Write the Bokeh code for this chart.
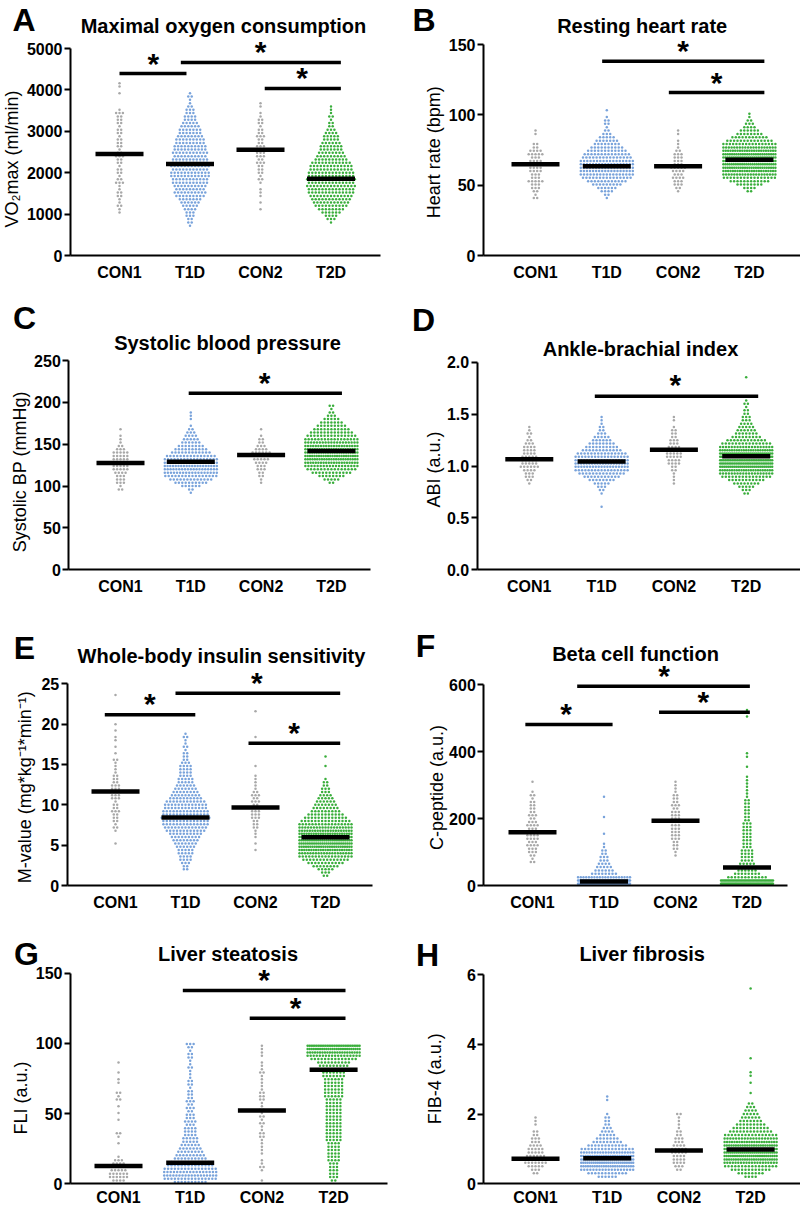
import numpy as np
from bokeh.plotting import figure
from bokeh.models import Range1d, FixedTicker, PrintfTickFormatter, Label
from bokeh.layouts import column, row
from bokeh.embed import file_html
from bokeh.resources import INLINE
from bokeh.core.properties import value

GROUPS = ["CON1", "T1D", "CON2", "T2D"]
COLORS = ["#a8a8a8", "#79a3db", "#a8a8a8", "#3aae3c"]

# ---------------- data (row counts per value row) ----------------
# A  Maximal oxygen consumption (ml/min)
VO2_STEP = 80
VO2_LO = [1040, 720, 1120, 800]
VO2_CON1 = [1,1,2,1,1,2,2,1,1,3, 2,1,2,2,1,2,2,3,2,1, 2,2,2,1,2,2,1,2,2,2, 3,1,0,0,0,0,1,0,1,1, 0]
VO2_T1D = [1,2,2,3,3,4,5,6,7,9, 10,9,10,11,11,12,12,11,12,11, 11,10,11,10,10,9,9,8,7,7, 6,5,4,4,3,3,2,1,1,2, 1]
VO2_CON2 = [1,0,1,0,1,1,1,0,1,2, 1,2,2,2,3,2,3,3,2,3, 2,2,3,2,2,1,2,2,1,1, 0,1,1]
VO2_T2D = [1,3,4,6,8,10,11,12,13,14, 14,15,14,15,14,14,13,13,12,10, 9,8,7,7,6,5,5,4,3,2, 2,1,2,1,1,1]
VO2_MEAN = [2450, 2210, 2555, 1855]
VO2_TICKS = [0, 1000, 2000, 3000, 4000, 5000]

# B  Resting heart rate (bpm)
HR_STEP = 2.4
HR_LO = [40.8, 40.8, 45.6, 45.6]
HR_CON1 = [2,1,2,3,3,5,3,3,4,4, 5,4,3,5,4,2,2,0,0,1, 1]
HR_T1D = [1,2,4,6,9,12,15,17,18,18, 18,17,15,14,12,10,8,7,5,3, 2,1,2,2,1,0,1]
HR_CON2 = [1,2,3,3,4,3,4,5,3,3, 3,3,2,1,1,1,0,1,1]
HR_T2D = [2,4,8,12,16,20,23,25,26,26, 26,25,23,20,17,14,11,8,6,4, 3,2,1,1]
HR_MEAN = [64.8, 63.4, 63.4, 68.1]
HR_TICKS = [0, 50, 100, 150]

# C  Systolic blood pressure (mmHg)
SBP_STEP = 4
SBP_LO = [96, 92, 104, 104]
SBP_CON1 = [2,1,3,3,3,4,5,5,6,5, 5,5,3,2,1,1,1,0,1]
SBP_T1D = [1,2,6,10,13,16,18,19,20,19, 17,15,12,10,8,6,5,4,3,2, 1,0,1,1,1]
SBP_CON2 = [1,1,2,2,3,3,4,5,5,6, 4,3,2,2,1,0,1]
SBP_T2D = [2,5,8,12,15,18,21,23,24,24, 23,21,19,17,15,13,11,9,7,5, 3,2,1,2]
SBP_MEAN = [127.6, 129.2, 137.2, 141.9]
SBP_TICKS = [0, 50, 100, 150, 200, 250]

# D  Ankle-brachial index
ABI_STEP = 0.032
ABI_LO = [0.832, 0.608, 0.832, 0.736]
ABI_CON1 = [1,2,3,3,4,6,5,5,5,4, 4,4,3,2,1,2,1,1]
ABI_T1D = [1,0,0,0,1,2,3,5,8,11, 14,17,19,20,19,17,15,12,10,8, 6,5,3,2,2,1,1,1]
ABI_CON2 = [1,1,1,1,2,2,4,4,5,5, 5,4,3,3,2,2,2,1,0,1, 1]
ABI_T2D = [2,3,5,8,11,15,19,23,27,30, 31,30,27,23,19,15,12,9,7,6, 5,4,3,3,2,2,1,2,1,0, 0,0,0,0,0,1]
ABI_MEAN = [1.066, 1.043, 1.156, 1.095]
ABI_TICKS = [0.0, 0.5, 1.0, 1.5, 2.0]

# E  Whole-body insulin sensitivity (M-value)
MV_STEP = 0.4
MV_LO = [5.2, 2.0, 4.4, 1.2]
MV_CON1 = [1,0,0,0,1,2,1,2,2,2, 3,2,2,1,3,3,4,3,3,2, 2,2,1,1,1,1,2,0,1,0, 1,0,1,1,0,1,0,1,0,0, 0,0,0,0,0,0,1]
MV_T1D = [2,2,3,4,4,5,5,6,7,8, 9,10,12,13,14,14,15,14,14,13, 13,12,10,9,8,7,6,5,5,4, 4,4,4,3,2,2,2,1,2,1, 1,2,1]
MV_CON2 = [1,0,1,0,1,1,1,2,2,2, 3,3,3,3,2,3,2,3,2,1, 1,1,1,1,0,0,1,0,0,0, 0,0,0,0,0,1,0,0,0,0, 0,0,0,1]
MV_T2D = [2,3,5,8,11,14,17,20,23,25, 26,26,25,23,21,19,17,15,13,11, 9,8,7,6,5,4,3,3,2,2, 1,0,0,0,1,0,0,1]
MV_MEAN = [11.65, 8.43, 9.67, 5.99]
MV_TICKS = [0, 5, 10, 15, 20, 25]

# F  Beta cell function (C-peptide)
CP_STEP = 10
CP_LO = [70, 5, 90, 5]
CP_CON1 = [2,1,2,3,3,4,3,4,4,4, 3,4,3,2,3,2,2,2,2,1, 2,1,0,0,1]
CP_T1D = [55,45,20,8,6,5,4,3,3,2, 2,1,1,0,0,1,0,0,0,0, 1,0,0,0,0,0,1]
CP_CON2 = [1,1,2,2,2,3,3,3,3,3, 3,3,3,3,2,3,2,2,2,1, 1,1,1]
CP_T2D = [60,40,12,8,6,5,5,4,4,4, 4,3,3,3,3,3,3,3,3,2, 2,2,2,2,2,2,1,1,1,1, 1,1,1,0,0,1,0,0,1,1, 0,0,0,0,0,0,0,0,0,0, 1,0,1]
CP_MEAN = [159.5, 12.0, 193.4, 53.8]
CP_TICKS = [0, 200, 400, 600]

# G  Liver steatosis (FLI)
FLI_STEP = 2.4
FLI_LO = [2.4, 1.2, 2.4, 2.4]
FLI_CON1 = [4,6,6,5,5,4,3,1,0,0, 0,1,0,1,2,0,0,0,1,0, 1,0,1,0,2,1,2,0,0,1, 1,0,1,0,0,1]
FLI_T1D = [10,16,18,17,16,14,12,10,9,8, 7,6,5,5,4,4,4,3,4,3, 3,2,3,2,3,2,2,2,1,2, 2,1,1,1,2,1,1,2,2,1, 2,3]
FLI_CON2 = [1,0,0,1,2,1,1,0,1,1, 1,1,1,2,2,1,1,2,1,2, 1,2,1,1,2,2,2,1,1,1, 1,1,2,1,1,1,0,1,1,1, 1]
FLI_T2D = [2,3,3,3,3,3,4,4,4,4, 4,4,5,5,5,5,5,5,5,5, 5,5,5,5,5,6,6,6,6,6, 6,7,7,8,9,10,14,18,22,26, 30]
FLI_MEAN = [12.6, 15.0, 52.2, 81.2]
FLI_TICKS = [0, 50, 100, 150]

# H  Liver fibrosis (FIB-4)
FIB_STEP = 0.1
FIB_LO = [0.3, 0.2, 0.4, 0.2]
FIB_CON1 = [2,3,5,7,7,6,5,5,4,3, 3,2,2,0,1,1,1]
FIB_T1D = [6,12,18,24,26,26,24,20,16,12, 9,7,5,4,3,2,2,2,1,0, 0,0,1,1]
FIB_CON2 = [2,3,4,4,4,5,5,4,3,3, 2,2,1,1,1,1,2]
FIB_T2D = [4,8,12,16,20,24,26,27,26,24, 22,19,16,13,11,9,7,6,5,4, 3,2,0,0,1,0,0,1,0,1, 1,0,0,0,1,0,0,0,0,0, 0,0,0,0,0,0,0,0,0,0, 0,0,0,0,1]
FIB_MEAN = [0.717, 0.736, 0.955, 0.984]
FIB_TICKS = [0, 2, 4, 6]

# significance brackets (x from, x to, y) and asterisks (x, y)
VO2_SIG = [(1.0, 1.95, 4395), (1.87, 4.14, 4661), (3.06, 4.14, 4032)]
VO2_STARS = [(1.48, 4718), (3.0, 5000), (3.59, 4379)]
HR_SIG = [(1.935, 4.21, 138.1), (2.87, 4.21, 115.8)]
HR_STARS = [(3.07, 147.6), (3.54, 125.3)]
SBP_SIG = [(1.97, 4.15, 210.9)]
SBP_STARS = [(3.05, 227.3)]
ABI_SIG = [(1.906, 4.166, 1.673)]
ABI_STARS = [(3.02, 1.814)]
MV_SIG = [(0.847, 2.14, 21.16), (1.857, 4.21, 23.84), (2.90, 4.21, 17.64)]
MV_STARS = [(1.49, 22.9), (3.02, 25.5), (3.55, 19.3)]
CP_SIG = [(0.90, 2.12, 481.4), (1.625, 4.04, 596), (2.77, 4.04, 518.3)]
CP_STARS = [(1.47, 523), (2.84, 638), (3.39, 560)]
FLI_SIG = [(1.897, 4.166, 137.7), (2.83, 4.166, 118.0)]
FLI_STARS = [(3.03, 147.6), (3.47, 127.5)]

# ---------------- layout / style ----------------
FONT = "Liberation Sans"
SPACING = 3.4      # px between neighbouring dots in a row
MAXW = 52          # px max swarm width
DOT = 2.5
MEAN_HALF = 24     # px
STAR_SIZE = "30px"
STAR_DY = 3        # px

PANELS = [
    dict(letter="A", title="Maximal oxygen consumption", ylabel="VO\u2082max (ml/min)",
         step=VO2_STEP, lo=VO2_LO, counts=[VO2_CON1, VO2_T1D, VO2_CON2, VO2_T2D], means=VO2_MEAN,
         ticks=VO2_TICKS, fmt="%d", sig=VO2_SIG, stars=VO2_STARS,
         g=dict(W=400, H=285, L=70, R=380, B=255, Yt=48, c1=119, dx=70.5, xst=8,
                title=(223, 25), let=(23.5, 19), ylab=(11.5, 158.5))),
    dict(letter="B", title="Resting heart rate", ylabel="Heart rate (bpm)",
         step=HR_STEP, lo=HR_LO, counts=[HR_CON1, HR_T1D, HR_CON2, HR_T2D], means=HR_MEAN,
         ticks=HR_TICKS, fmt="%d", sig=HR_SIG, stars=HR_STARS,
         g=dict(W=400, H=285, L=83, R=400, B=255, Yt=44, c1=135, dx=71.3, xst=8,
                title=(241.7, 25), let=(23.5, 19), ylab=(33, 151.7))),
    dict(letter="C", title="Systolic blood pressure", ylabel="Systolic BP (mmHg)",
         step=SBP_STEP, lo=SBP_LO, counts=[SBP_CON1, SBP_T1D, SBP_CON2, SBP_T2D], means=SBP_MEAN,
         ticks=SBP_TICKS, fmt="%d", sig=SBP_SIG, stars=SBP_STARS,
         g=dict(W=400, H=313, L=68.3, R=370, B=284.3, Yt=75, c1=120, dx=70.3, xst=8,
                title=(227, 57.7), let=(24, 32), ylab=(19, 186.3))),
    dict(letter="D", title="Ankle-brachial index", ylabel="ABI (a.u.)",
         step=ABI_STEP, lo=ABI_LO, counts=[ABI_CON1, ABI_T1D, ABI_CON2, ABI_T2D], means=ABI_MEAN,
         ticks=ABI_TICKS, fmt="%.1f", sig=ABI_SIG, stars=ABI_STARS,
         g=dict(W=400, H=313, L=76.7, R=400, B=284.3, Yt=76.7, c1=128.8, dx=72.3, xst=8,
                title=(240, 63), let=(23, 34.5), ylab=(33, 184))),
    dict(letter="E", title="Whole-body insulin sensitivity", ylabel="M-value (mg*kg\u207b\u00b9*min\u207b\u00b9)",
         step=MV_STEP, lo=MV_LO, counts=[MV_CON1, MV_T1D, MV_CON2, MV_T2D], means=MV_MEAN,
         ticks=MV_TICKS, fmt="%d", sig=MV_SIG, stars=MV_STARS,
         g=dict(W=400, H=315, L=66.7, R=371.7, B=287, Yt=85.3, c1=115, dx=70, xst=8,
                title=(221, 57), let=(24, 49.5), ylab=(24, 188.7))),
    dict(letter="F", title="Beta cell function", ylabel="C-peptide (a.u.)",
         step=CP_STEP, lo=CP_LO, counts=[CP_CON1, CP_T1D, CP_CON2, CP_T2D], means=CP_MEAN,
         ticks=CP_TICKS, fmt="%d", sig=CP_SIG, stars=CP_STARS,
         g=dict(W=400, H=315, L=83.3, R=386.7, B=287, Yt=86.3, c1=132, dx=71.5, xst=8,
                title=(235, 55), let=(25, 47), ylab=(36.5, 189))),
    dict(letter="G", title="Liver steatosis", ylabel="FLI (a.u.)",
         step=FLI_STEP, lo=FLI_LO, counts=[FLI_CON1, FLI_T1D, FLI_CON2, FLI_T2D], means=FLI_MEAN,
         ticks=FLI_TICKS, fmt="%d", sig=FLI_SIG, stars=FLI_STARS,
         g=dict(W=400, H=294, L=70, R=386.7, B=270.3, Yt=59.7, c1=118, dx=71.7, xst=5,
                title=(227.5, 40.3), let=(26, 40), ylab=(20, 184.5))),
    dict(letter="H", title="Liver fibrosis", ylabel="FIB-4 (a.u.)",
         step=FIB_STEP, lo=FIB_LO, counts=[FIB_CON1, FIB_T1D, FIB_CON2, FIB_T2D], means=FIB_MEAN,
         ticks=FIB_TICKS, fmt="%d", sig=[], stars=[],
         g=dict(W=400, H=294, L=83.3, R=400, B=270.3, Yt=61, c1=135, dx=71.7, xst=5,
                title=(241.7, 40.3), let=(27, 41), ylab=(34.5, 165.3))),
]


def build(pn):
    g = pn["g"]
    W, H, L, R, B, Yt, dx = g["W"], g["H"], g["L"], g["R"], g["B"], g["Yt"], g["dx"]
    ymax = pn["ticks"][-1]
    py = (B - Yt) / ymax

    def dx_(lx):
        return 1 + (lx - g["c1"]) / dx

    def dy_(ly):
        return (B - ly) / py

    p = figure(width=W, height=H, x_range=Range1d(dx_(0), dx_(W)), y_range=Range1d(dy_(H), dy_(0)),
               output_backend="svg", toolbar_location=None, title=None,
               min_border_left=0, min_border_right=0, min_border_top=0, min_border_bottom=0)
    p.outline_line_color = None
    p.xgrid.visible = False
    p.ygrid.visible = False
    p.background_fill_color = "white"
    p.border_fill_color = "white"

    # swarms
    for gi in range(4):
        xs, ys = [], []
        for i, n in enumerate(pn["counts"][gi]):
            if n == 0:
                continue
            yv = pn["lo"][gi] + i * pn["step"]
            sp = min(SPACING, MAXW / (n - 1)) if n > 1 else 0
            for k in range(n):
                xs.append(gi + 1 + (k - (n - 1) / 2) * sp / dx)
                ys.append(yv)
        p.scatter(xs, ys, marker="circle", size=DOT, fill_color=COLORS[gi], line_color=None)

    # means
    hw = MEAN_HALF / dx
    cats = [1, 2, 3, 4]
    p.segment(x0=[c - hw for c in cats], x1=[c + hw for c in cats], y0=pn["means"], y1=pn["means"],
              line_width=4.5, line_color="black", line_cap="butt")

    # significance
    if pn["sig"]:
        p.segment(x0=[s[0] for s in pn["sig"]], x1=[s[1] for s in pn["sig"]],
                  y0=[s[2] for s in pn["sig"]], y1=[s[2] for s in pn["sig"]],
                  line_width=3.5, line_color="black", line_cap="butt")
        p.text(x=[s[0] for s in pn["stars"]], y=[s[1] for s in pn["stars"]], text=["*"] * len(pn["stars"]),
               text_font=value(FONT), text_font_style="bold", text_font_size=STAR_SIZE,
               text_align="center", text_baseline="middle", y_offset=STAR_DY, text_color="black")

    # axes (placed inside the full-size frame)
    yax = p.yaxis[0]
    yax.fixed_location = dx_(L)
    yax.ticker = FixedTicker(ticks=pn["ticks"])
    yax.formatter = PrintfTickFormatter(format=pn["fmt"])
    yax.bounds = (0, ymax)
    yax.axis_line_width = 2
    yax.axis_line_color = "black"
    yax.major_tick_line_width = 2
    yax.major_tick_line_color = "black"
    yax.major_tick_out = 6
    yax.major_tick_in = 0
    yax.minor_tick_line_color = None
    yax.major_label_standoff = 2
    yax.major_label_text_font = FONT
    yax.major_label_text_font_style = "bold"
    yax.major_label_text_font_size = "16px"
    yax.major_label_text_color = "black"

    xax = p.xaxis[0]
    xax.fixed_location = 0
    xax.bounds = (dx_(L), dx_(R))
    xax.ticker = FixedTicker(ticks=cats)
    xax.major_label_overrides = {c: GROUPS[c - 1] for c in cats}
    xax.axis_line_width = 2
    xax.axis_line_color = "black"
    xax.major_tick_line_color = None
    xax.major_tick_out = 0
    xax.major_tick_in = 0
    xax.minor_tick_line_color = None
    xax.major_label_standoff = g["xst"]
    xax.major_label_text_font = FONT
    xax.major_label_text_font_style = "bold"
    xax.major_label_text_font_size = "16px"
    xax.major_label_text_color = "black"

    # texts
    tx, ty = g["title"]
    p.add_layout(Label(x=dx_(tx), y=dy_(ty), text=pn["title"], text_font=FONT, text_font_style="bold",
                       text_font_size="20px", text_align="center", text_baseline="middle",
                       text_color="black"))
    lx, ly = g["let"]
    p.add_layout(Label(x=dx_(lx), y=dy_(ly), text=pn["letter"], text_font=FONT, text_font_style="bold",
                       text_font_size="32px", text_align="center", text_baseline="middle",
                       text_color="black"))
    ax_, ay_ = g["ylab"]
    p.add_layout(Label(x=dx_(ax_), y=dy_(ay_), text=pn["ylabel"], text_font=FONT, text_font_style="normal",
                       text_font_size="18px", text_align="center", text_baseline="middle",
                       angle=np.pi / 2, text_color="black"))
    return p


figs = [build(pn) for pn in PANELS]
layout = column(row(figs[0], figs[1]), row(figs[2], figs[3]),
                row(figs[4], figs[5]), row(figs[6], figs[7]))

open("out.html", "w").write(file_html(layout, INLINE))
